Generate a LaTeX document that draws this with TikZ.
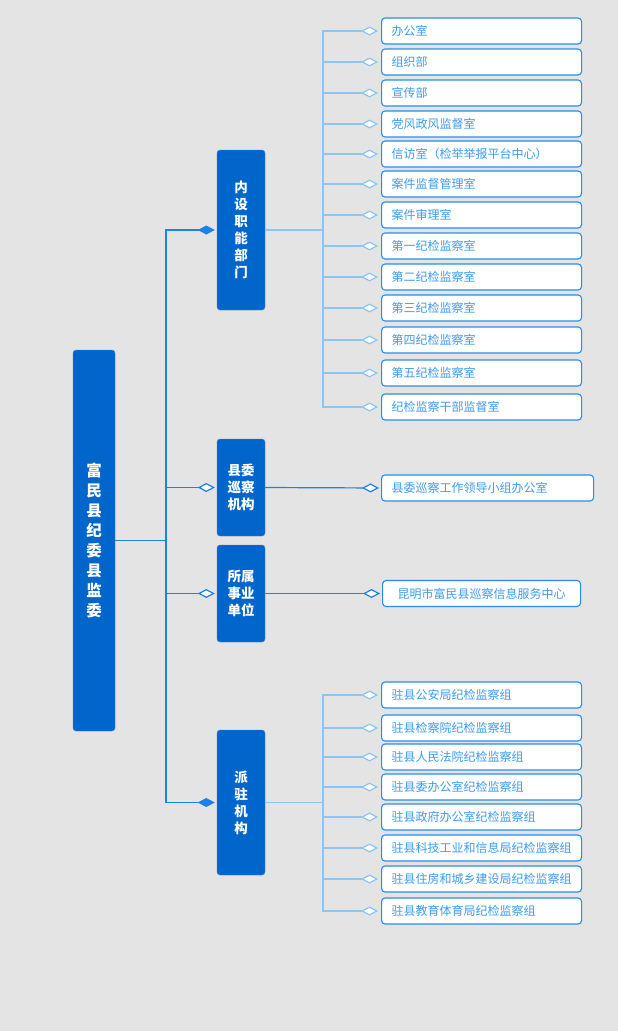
\documentclass[tikz,border=0pt]{standalone}
\usepackage{fontspec}
\setmainfont{Noto Sans CJK SC}
\usetikzlibrary{arrows.meta}
\definecolor{bg}{HTML}{E4E4E4}
\definecolor{deep}{HTML}{0066CC}
\definecolor{trunk}{HTML}{1A82EA}
\definecolor{twig}{HTML}{8EC3F5}
\definecolor{leafline}{HTML}{2A8CF0}
\definecolor{leaftxt}{HTML}{3D9BF5}

\begin{document}
\begin{tikzpicture}[x=1pt,y=-1pt,
  head/.style={draw=deep!75!white,fill=deep,rounded corners=3pt,text=white,
               font=\bfseries\fontsize{13.5}{17}\selectfont,align=center,inner sep=0pt},
  leaf/.style={draw=leafline,line width=1.1pt,fill=white,rounded corners=3.5pt,minimum height=26pt,
               text width=180pt,inner xsep=10pt,inner ysep=0pt,anchor=west,align=left,
               text=leaftxt,font=\fontsize{12}{14}\selectfont},
  main/.style={-{Diamond[length=17pt,width=9pt]},color=trunk,line width=1.2pt,shorten >=2pt},
  side/.style={-{Diamond[length=17pt,width=9pt,fill=white]},color=trunk,line width=1.2pt,shorten >=2pt},
  twig/.style={-{Diamond[length=17pt,width=9pt,fill=white]},color=twig,line width=1.2pt,shorten >=3pt}]
\useasboundingbox (0,0) rectangle (618,1031);
\fill[bg] (0,0) rectangle (618,1031);

% root and first level
\node[head,minimum width=42pt,minimum height=381pt,font=\bfseries\fontsize{15.5}{20}\selectfont]
  (fm) at (94,540.5) {富\\民\\县\\纪\\委\\县\\监\\委};
\node[head,minimum width=48pt,minimum height=160pt] (nei) at (241,230) {内\\设\\职\\能\\部\\门};
\node[head,minimum width=48pt,minimum height=97pt] (xun) at (241,487.5) {县委\\巡察\\机构};
\node[head,minimum width=48pt,minimum height=97pt] (shu) at (241,593.5) {所属\\事业\\单位};
\node[head,minimum width=48pt,minimum height=145pt] (pai) at (241,802.5) {派\\驻\\机\\构};

\coordinate (j) at (166,540.5);
\draw[color=trunk,line width=1.2pt] (fm.east) -- (j);
\draw[main] (j) |- (nei.west);
\draw[side] (j) |- (xun.west);
\draw[side] (j) |- (shu.west);
\draw[main] (j) |- (pai.west);

% internal departments
\coordinate (nj) at (323,230);
\draw[color=twig,line width=1.2pt] (nei.east) -- (nj);
\foreach \y/\t [count=\i] in {31/办公室,62/组织部,93/宣传部,124/党风政风监督室,
    154/信访室（检举举报平台中心）,184/案件监督管理室,215/案件审理室,246/第一纪检监察室,
    277/第二纪检监察室,308/第三纪检监察室,340/第四纪检监察室,373/第五纪检监察室,
    407/纪检监察干部监督室}{
  \node[leaf] (n\i) at (381,\y) {\t};
  \draw[twig] (nj) |- (n\i.west);
}

% inspection and affiliated units
\node[leaf,text width=192pt] (x1) at (381,488) {县委巡察工作领导小组办公室};
\draw[side] (xun.east) -- (x1.west);
\node[leaf,text width=178pt,align=center] (s1) at (382,593.5) {昆明市富民县巡察信息服务中心};
\draw[side] (shu.east) -- (s1.west);

% stationed groups
\coordinate (pj) at (323,802.5);
\draw[color=twig,line width=1.2pt] (pai.east) -- (pj);
\foreach \y/\t [count=\i] in {695/驻县公安局纪检监察组,728/驻县检察院纪检监察组,
    757/驻县人民法院纪检监察组,787/驻县委办公室纪检监察组,817/驻县政府办公室纪检监察组,
    848/驻县科技工业和信息局纪检监察组,879/驻县住房和城乡建设局纪检监察组,
    911/驻县教育体育局纪检监察组}{
  \node[leaf] (p\i) at (381,\y) {\t};
  \draw[twig] (pj) |- (p\i.west);
}
\end{tikzpicture}
\end{document}
